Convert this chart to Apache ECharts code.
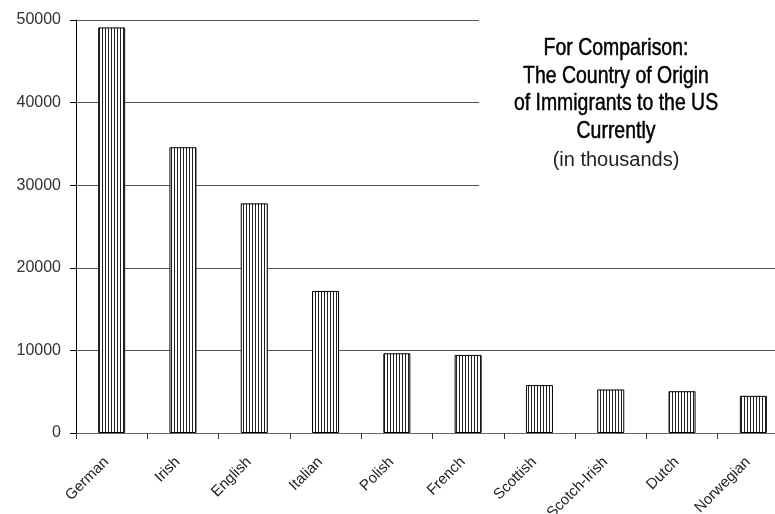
<!DOCTYPE html>
<html><head><meta charset="utf-8">
<script src="https://cdn.jsdelivr.net/npm/echarts@6/dist/echarts.min.js"></script>
<style>html,body{margin:0;padding:0;background:#fff}#c{width:775px;height:514px}</style>
</head><body><div id="c"></div>
<script>
const categories = ['German','Irish','English','Italian','Polish','French','Scottish','Scotch-Irish','Dutch','Norwegian'];
const values = [49100, 34600, 27800, 17200, 9650, 9450, 5800, 5270, 5060, 4500];
const titleLines = ['For Comparison:', 'The Country of Origin', 'of Immigrants to the US', 'Currently'];
const subtitleText = '(in thousands)';

const pc = document.createElement('canvas');
pc.width = 3; pc.height = 4;
const g = pc.getContext('2d');
g.fillStyle = '#fff'; g.fillRect(0, 0, 3, 4);
g.fillStyle = '#222'; g.fillRect(0, 0, 1, 4);

const chart = echarts.init(document.getElementById('c'), null, {renderer: 'canvas'});
const titleCenterX = 616;
const rowY = [48, 76, 103, 131];
const graphics = [
  {type: 'rect', z: 10, shape: {x: 479, y: 0, width: 300, height: 192}, style: {fill: '#fff'}}
];
titleLines.forEach((t, i) => {
  graphics.push({type: 'text', z: 11, x: titleCenterX, y: rowY[i], scaleX: 0.81,
    style: {text: t, fill: '#000', stroke: '#000', lineWidth: 0.5,
      font: '24px "Liberation Sans", Arial, sans-serif',
      align: 'center', verticalAlign: 'middle', textAlign: 'center', textVerticalAlign: 'middle'}});
});
graphics.push({type: 'text', z: 11, x: titleCenterX, y: 160,
  style: {text: subtitleText, fill: '#222', font: '20px "Liberation Sans", Arial, sans-serif',
    align: 'center', verticalAlign: 'middle', textAlign: 'center', textVerticalAlign: 'middle'}});

chart.setOption({
  animation: false,
  backgroundColor: '#fff',
  grid: {left: 76, top: 20, right: -14, bottom: 81, containLabel: false, outerBoundsMode: 'none'},
  xAxis: {
    type: 'category', data: categories,
    axisLine: {lineStyle: {color: '#666', width: 1}},
    axisTick: {show: true, length: 6, lineStyle: {color: '#333'}},
    axisLabel: {interval: 0, rotate: 45, margin: 32, verticalAlign: 'bottom', fontSize: 15, color: '#222',
      fontFamily: '"Liberation Sans", Arial, sans-serif'}
  },
  yAxis: {
    type: 'value', min: 0, max: 50000, interval: 10000,
    axisLine: {show: true, lineStyle: {color: '#000', width: 1}},
    axisTick: {show: true, length: 6, lineStyle: {color: '#000'}},
    axisLabel: {margin: 15, fontSize: 16, color: '#333', fontFamily: '"Liberation Sans", Arial, sans-serif',
      formatter: v => String(v)},
    splitLine: {show: true, lineStyle: {color: '#555', width: 1}}
  },
  graphic: graphics,
  series: [{
    type: 'bar', data: values, barWidth: 27,
    itemStyle: {color: {image: pc, repeat: 'repeat'}, borderColor: '#000', borderWidth: 1}
  }]
});
</script></body></html>
